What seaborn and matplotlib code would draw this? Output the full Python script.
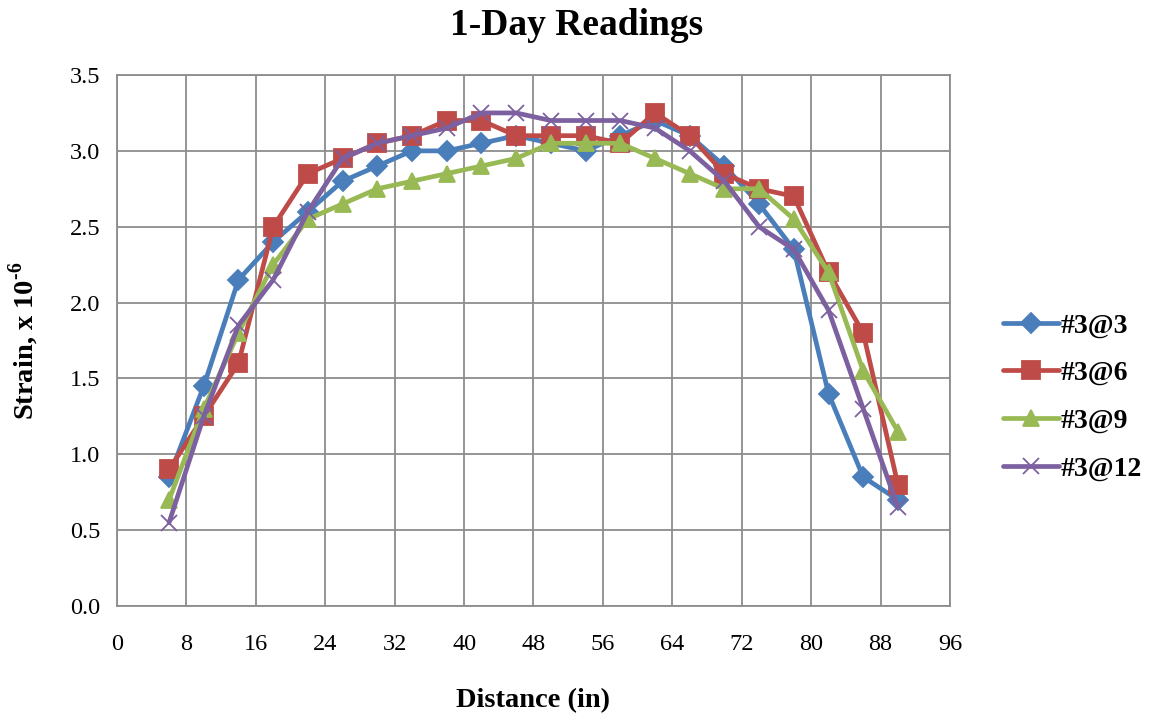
import matplotlib
matplotlib.use("Agg")
import matplotlib.pyplot as plt
import pandas as pd
import seaborn as sns

# Datos
distancia = [6, 10, 14, 18, 22, 26, 30, 34, 38, 42, 46, 50, 54, 58, 62, 66, 70, 74, 78, 82, 86, 90]
serie_3_3 = [0.85, 1.45, 2.15, 2.40, 2.60, 2.80, 2.90, 3.00, 3.00, 3.05, 3.10, 3.05,
             3.00, 3.10, 3.20, 3.10, 2.90, 2.65, 2.35, 1.40, 0.85, 0.70]
serie_3_6 = [0.90, 1.25, 1.60, 2.50, 2.85, 2.95, 3.05, 3.10, 3.20, 3.20, 3.10, 3.10,
             3.10, 3.05, 3.25, 3.10, 2.85, 2.75, 2.70, 2.20, 1.80, 0.80]
serie_3_9 = [0.70, 1.30, 1.80, 2.25, 2.55, 2.65, 2.75, 2.80, 2.85, 2.90, 2.95, 3.05,
             3.05, 3.05, 2.95, 2.85, 2.75, 2.75, 2.55, 2.20, 1.55, 1.15]
serie_3_12 = [0.55, 1.25, 1.85, 2.15, 2.60, 2.95, 3.05, 3.10, 3.15, 3.25, 3.25, 3.20,
              3.20, 3.20, 3.15, 3.00, 2.80, 2.50, 2.35, 1.95, 1.30, 0.65]
nombres = ["#3@3", "#3@6", "#3@9", "#3@12"]

df = pd.concat([
    pd.DataFrame({"dist": distancia, "strain": vals, "serie": nombre})
    for nombre, vals in zip(nombres, [serie_3_3, serie_3_6, serie_3_9, serie_3_12])
], ignore_index=True)

colores = {"#3@3": "#4A7EBB", "#3@6": "#BE4B48", "#3@9": "#98B954", "#3@12": "#7D60A0"}
marcadores = {"#3@3": "D", "#3@6": "s", "#3@9": "^", "#3@12": "x"}
tamanos = {"#3@3": 10, "#3@6": 12.5, "#3@9": 12, "#3@12": 11}

sns.set_theme(style="white")
plt.rcParams["font.family"] = ["Liberation Serif", "DejaVu Serif"]
plt.rcParams["text.color"] = "black"
plt.rcParams["axes.labelcolor"] = "black"
plt.rcParams["mathtext.fontset"] = "custom"
plt.rcParams["mathtext.bf"] = "Liberation Serif:bold"
plt.rcParams["mathtext.rm"] = "Liberation Serif"

fig = plt.figure(figsize=(11.55, 7.17), dpi=100)
ax = fig.add_axes([0.1013, 0.1548, 0.7212, 0.7406])

for nombre in nombres:
    sub = df[df["serie"] == nombre]
    sns.lineplot(data=sub, x="dist", y="strain", color=colores[nombre],
                 marker=marcadores[nombre], markersize=tamanos[nombre],
                 markeredgewidth=1.3, markeredgecolor=colores[nombre],
                 linewidth=3.4, label=nombre, ax=ax, sort=False)

ax.set_xlim(0, 96)
ax.set_ylim(0, 3.5)
ax.set_xticks(range(0, 97, 8))
ax.set_yticks([i * 0.5 for i in range(8)])
ax.set_yticklabels([f"{i * 0.5:.1f}" for i in range(8)])
ax.grid(True, color="#8C8C8C", linewidth=1.3)
for s in ax.spines.values():
    s.set_color("#8C8C8C")
    s.set_linewidth(1.3)
ax.tick_params(axis="both", labelsize=17.5, labelcolor="black", length=6,
               width=1.3, direction="out", color="#8C8C8C")
ax.tick_params(axis="y", pad=6)
ax.tick_params(axis="x", pad=14)

# título centrado respecto a la figura
ax.set_title("1-Day Readings", fontsize=27, fontweight="bold", pad=29, x=0.552)
ax.set_xlabel("Distance (in)", fontsize=20.5, fontweight="bold", labelpad=24)
ax.set_ylabel("Strain, x 10$^{\\mathbf{\u20106}}$", fontsize=20.5, fontweight="bold")
ax.yaxis.set_label_coords(-0.091, 0.5)

leg = ax.legend(loc="center left", bbox_to_anchor=(1.064, 0.393), frameon=False,
                prop={"size": 20, "weight": "bold"}, handlelength=2.0,
                labelspacing=0.8, handletextpad=0.05, borderpad=0, borderaxespad=0)

fig.savefig("out.png", dpi=100)
